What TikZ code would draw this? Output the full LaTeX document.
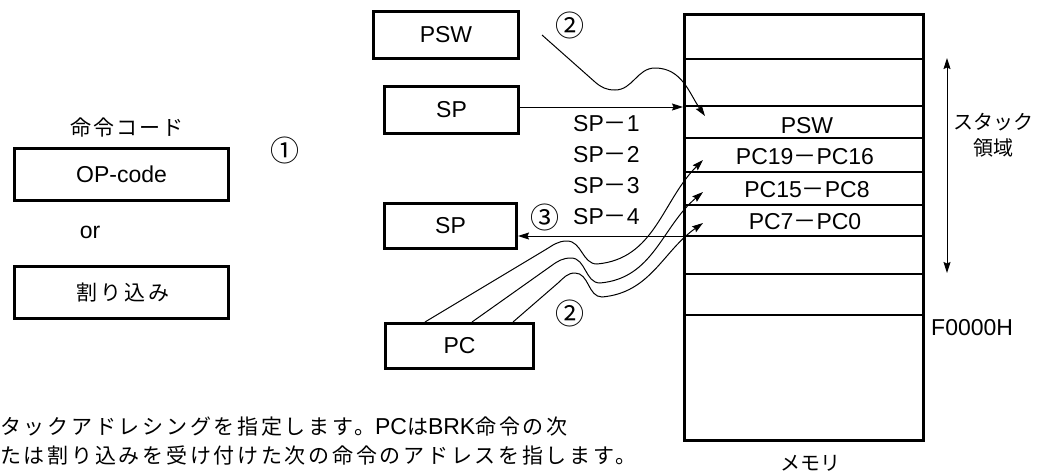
\documentclass[tikz,border=0pt]{standalone}
\usepackage{fontspec}
\setmainfont{Liberation Sans}
\newfontfamily\jp{Noto Sans CJK JP}
\newfontfamily\jpls{Noto Sans CJK JP}[LetterSpace=10]
\newfontfamily\jplsw{Noto Sans CJK JP}[LetterSpace=13]
\usetikzlibrary{arrows.meta}
\newcommand\mydash{{\jp －}}
\tikzset{
  box/.style={draw, line width=3pt, inner sep=0pt, font=\fontsize{23}{27}\selectfont},
  lbl/.style={inner sep=0pt, font=\fontsize{23}{27}\selectfont},
  jlbl/.style={inner sep=0pt, font=\jpls\fontsize{21}{25}\selectfont},
  jlblw/.style={inner sep=0pt, font=\jplsw\fontsize{21}{25}\selectfont},
  jlbln/.style={inner sep=0pt, font=\jp\fontsize{20}{24}\selectfont},
  circ/.style={inner sep=0pt, font=\jp\fontsize{29}{32}\selectfont},
  arr/.style={line width=1pt, -{Stealth[length=11pt,width=7pt,inset=1.5pt]}},
  thinl/.style={line width=1.2pt},
  thickl/.style={line width=2.8pt},
}
\begin{document}
\begin{tikzpicture}[x=1pt,y=1pt]
\useasboundingbox (0,0) rectangle (1038,-472);
% left boxes
\node[jlbl] (cmd) at (127,-128) {命令コード};
\node[box, minimum width=214pt, minimum height=52pt] (op) at (121.5,-174.5) {OP-code};
\node[lbl] (or) at (90,-232) {or};
\node[box, minimum width=214pt, minimum height=52pt, font=\jplsw\fontsize{21}{25}\selectfont] (intr) at (121.5,-292.5) {\kern3pt割り込み};
\node[circ] (c1) at (285,-150) {①};
% register boxes
\node[box, minimum width=145pt, minimum height=47pt] (psw) at (446,-35) {PSW};
\node[box, minimum width=134pt, minimum height=47pt] (sp1) at (451.5,-110) {SP};
\node[box, minimum width=132pt, minimum height=45pt] (sp2) at (450.5,-226) {SP};
\node[box, minimum width=148pt, minimum height=45pt] (pc) at (459.5,-346) {PC};
% memory
\node[draw, line width=3pt, inner sep=0pt, minimum width=239pt, minimum height=426pt] (mem) at (804,-227.5) {};
\foreach \yy in {59,106,236,274,315} \draw[thinl] (mem.west |- 0,-\yy) -- (mem.east |- 0,-\yy);
\foreach \yy in {138,205} \draw[thickl] (mem.west |- 0,-\yy) -- (mem.east |- 0,-\yy);
\draw[line width=1.6pt] (mem.west |- 0,-172) -- (mem.east |- 0,-172);
\node[lbl] (mpsw) at (807,-126) {PSW};
\node[lbl] (m1) at (805,-157) {PC19\mydash PC16};
\node[lbl] (m2) at (807,-190) {PC15\mydash PC8};
\node[lbl] (m3) at (805,-222) {PC7\mydash PC0};
\node[jlbln] (memlbl) at (810,-463) {メモリ};
\node[lbl, anchor=west] (f0) at (931,-328) {F0000H};
\node[jlbln] (stk1) at (993,-122) {スタック};
\node[jlbln] (stk2) at (993,-148) {領域};
\coordinate (sa) at (947,-58);
\coordinate (sb) at (947,-273);
\draw[line width=1pt, {Stealth[length=11pt,width=7pt,inset=1.5pt]}-{Stealth[length=11pt,width=7pt,inset=1.5pt]}] (sa) -- (sb);
% SP labels
\node[lbl, anchor=west] (d1) at (573,-124) {SP\mydash 1};
\node[lbl, anchor=west] (d2) at (573,-155) {SP\mydash 2};
\node[lbl, anchor=west] (d3) at (573,-186) {SP\mydash 3};
\node[lbl, anchor=west] (d4) at (573,-217) {SP\mydash 4};
\node[circ] (c3) at (545,-217) {③};
\node[circ] (c2a) at (570,-25) {②};
\node[circ] (c2b) at (570,-313) {②};
% SP arrows
\draw[arr] ([yshift=3pt]sp1.east) -- ([yshift=3pt]sp1.east -| mem.west);
\draw[arr] ([yshift=-10pt]sp2.east -| mem.west) -- ([yshift=-10pt]sp2.east);
% PSW curve
\coordinate (p0) at (542,-35);
\coordinate (t0) at (705,-116);
\draw[arr] (p0) -- (595,-82) to[out=-41,in=180] (615,-90) to[out=0,in=180] (655,-68) to[out=0,in=125] (t0);
% PC curves
\coordinate (s1) at (pc.north -| 425,0);
\coordinate (s2) at (pc.north -| 472,0);
\coordinate (s3) at (pc.north -| 513,0);
\coordinate (t1) at (703,-160);
\coordinate (t2) at (703,-192);
\coordinate (t3) at (703,-223);
\draw[arr] (s1) -- (545,-250) to[out=31,in=180] (567,-241) to[out=0,in=180] (597,-264) to[out=5,in=225] (t1);
\draw[arr] (s2) -- (551,-266) to[out=36,in=180] (571,-258) to[out=0,in=180] (600,-283) to[out=5,in=220] (t2);
\draw[arr] (s3) -- (558,-283) to[out=42,in=180] (575,-273) to[out=0,in=180] (602,-297) to[out=5,in=215] (t3);
% bottom text
\node[jlblw, anchor=west] (txt1) at (0,-427) {タックアドレシングを指定します。{\fontspec{Liberation Sans}\fontsize{23}{27}\selectfont PC}は{\fontspec{Liberation Sans}\fontsize{23}{27}\selectfont BRK}命令の次};
\node[jlblw, anchor=west] (txt2) at (0,-455) {たは割り込みを受け付けた次の命令のアドレスを指します。};
\end{tikzpicture}
\end{document}
